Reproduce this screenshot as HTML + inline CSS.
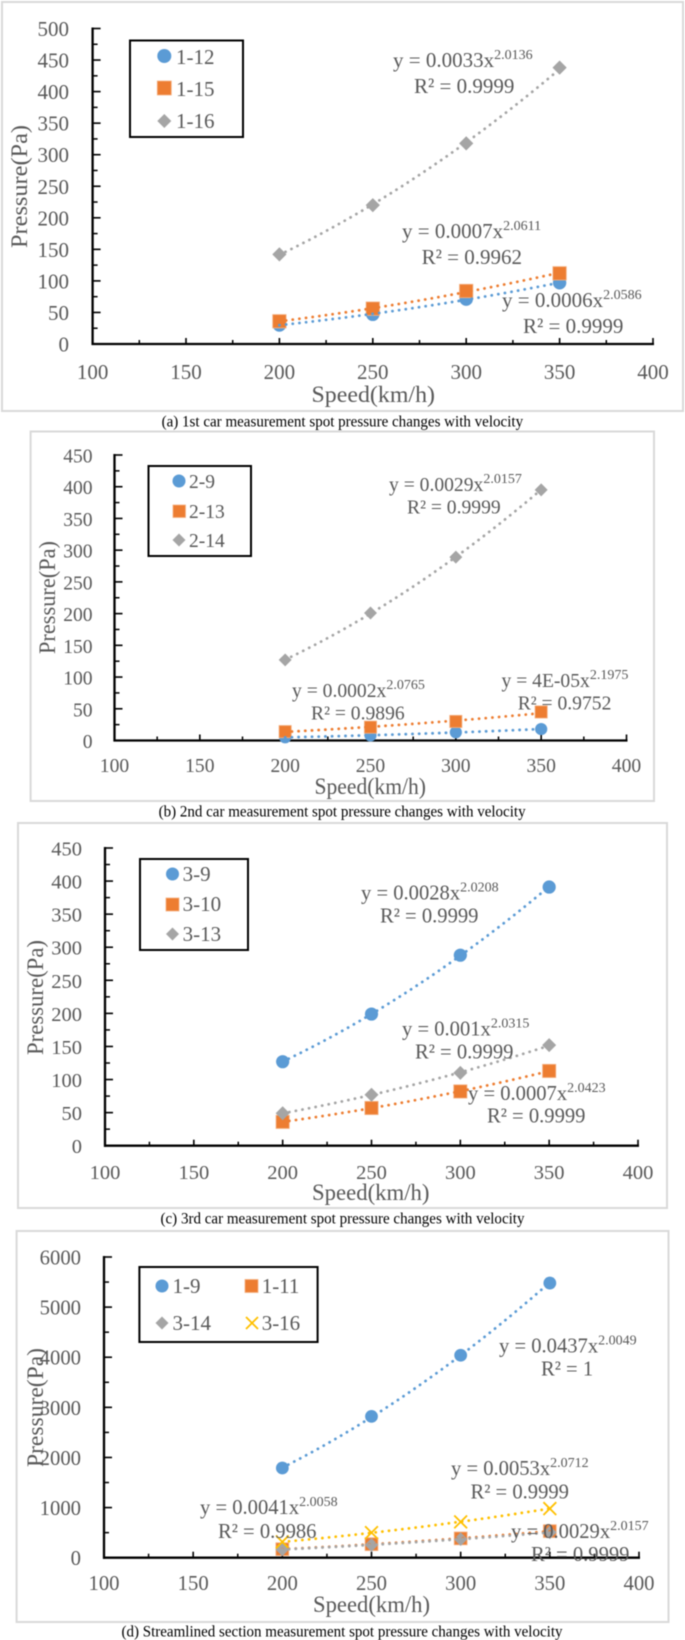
<!DOCTYPE html>
<html lang="en">
<head>
<meta charset="utf-8">
<title>Measurement spot pressure changes with velocity</title>
<style>
html,body{margin:0;padding:0;background:#fff;width:685px;height:1640px;overflow:hidden}
svg{display:block;filter:blur(0.45px)}
text{font-family:"Liberation Serif",serif;fill:#595959}
.cap{fill:#000;font-size:15.5px}
.eq{font-size:21px}
.eqb{font-size:19.6px}
.eqc{font-size:20.6px}
.sup{font-size:14px}
.leg{font-size:21px}
.title{font-size:23px}
</style>
</head>
<body>
<svg id="figure" xmlns="http://www.w3.org/2000/svg" width="685" height="1640" viewBox="0 0 685 1640">
  <rect x="0" y="0" width="685" height="1640" fill="#fff"/>

  <!-- panel frames -->
  <rect x="2" y="2" width="681" height="409" fill="#fff" stroke="#d9d9d9" stroke-width="2"/>
  <rect x="30.6" y="431.5" width="623.4" height="369.5" fill="#fff" stroke="#d9d9d9" stroke-width="2"/>
  <rect x="18" y="823" width="649" height="385" fill="#fff" stroke="#d9d9d9" stroke-width="2"/>
  <rect x="16.6" y="1231" width="651.9" height="391" fill="#fff" stroke="#d9d9d9" stroke-width="2"/>

  <!-- captions -->
  <text class="cap" x="161.6" y="426.5" textLength="361.5" lengthAdjust="spacingAndGlyphs">(a) 1st car measurement spot pressure changes with velocity</text>
  <text class="cap" x="158.6" y="816.5" textLength="367" lengthAdjust="spacingAndGlyphs">(b) 2nd car measurement spot pressure changes with velocity</text>
  <text class="cap" x="160.5" y="1223.5" textLength="364" lengthAdjust="spacingAndGlyphs">(c) 3rd car measurement spot pressure changes with velocity</text>
  <text class="cap" x="121.5" y="1636.5" textLength="441" lengthAdjust="spacingAndGlyphs">(d) Streamlined section measurement spot pressure changes with velocity</text>

  <!-- axis titles -->
  <text class="title" transform="translate(27,248) rotate(-90)" textLength="123" lengthAdjust="spacingAndGlyphs">Pressure(Pa)</text>
  <text class="title" x="311.5" y="402" textLength="123.5" lengthAdjust="spacingAndGlyphs">Speed(km/h)</text>
  <text class="title" transform="translate(55,654) rotate(-90)" textLength="113" lengthAdjust="spacingAndGlyphs">Pressure(Pa)</text>
  <text class="title" x="314.5" y="794" textLength="111.5" lengthAdjust="spacingAndGlyphs">Speed(km/h)</text>
  <text class="title" transform="translate(43,1055) rotate(-90)" textLength="115" lengthAdjust="spacingAndGlyphs">Pressure(Pa)</text>
  <text class="title" x="312" y="1200" textLength="117.5" lengthAdjust="spacingAndGlyphs">Speed(km/h)</text>

  <!-- legends -->
  <rect x="130" y="40.5" width="113" height="96.5" fill="#fff" stroke="#000" stroke-width="2"/>
  <circle cx="164.3" cy="56" r="7" fill="#5b9bd5"/>
  <text class="leg" x="176" y="64">1-12</text>
  <rect x="157.3" y="81" width="14" height="14" fill="#ed7d31" stroke="#f4b183" stroke-width="0.8"/>
  <text class="leg" x="176" y="96">1-15</text>
  <polygon points="164.3,114 171.3,121 164.3,128 157.3,121" fill="#a5a5a5"/>
  <text class="leg" x="176" y="128">1-16</text>

  <rect x="148.5" y="466" width="102.5" height="90" fill="#fff" stroke="#000" stroke-width="2"/>
  <circle cx="179" cy="481" r="6.5" fill="#5b9bd5"/>
  <text class="leg" style="font-size:19.5px" x="189" y="488">2-9</text>
  <rect x="173" y="505" width="12.5" height="12.5" fill="#ed7d31" stroke="#f4b183" stroke-width="0.8"/>
  <text class="leg" style="font-size:19.5px" x="189" y="518">2-13</text>
  <polygon points="179,533.5 185.5,540 179,546.5 172.5,540" fill="#a5a5a5"/>
  <text class="leg" style="font-size:19.5px" x="189" y="547">2-14</text>

  <rect x="140" y="859" width="108" height="91" fill="#fff" stroke="#000" stroke-width="2"/>
  <circle cx="172.5" cy="874" r="6.5" fill="#5b9bd5"/>
  <text class="leg" x="182.6" y="881">3-9</text>
  <rect x="166" y="898" width="13" height="13" fill="#ed7d31" stroke="#f4b183" stroke-width="0.8"/>
  <text class="leg" x="182.6" y="911">3-10</text>
  <polygon points="172.5,927.5 179,934 172.5,940.5 166,934" fill="#a5a5a5"/>
  <text class="leg" x="182.6" y="941">3-13</text>

  <rect x="139.4" y="1267" width="178.2" height="75" fill="#fff" stroke="#000" stroke-width="2"/>
  <circle cx="162" cy="1286" r="6.5" fill="#5b9bd5"/>
  <text class="leg" x="172.5" y="1293">1-9</text>
  <rect x="245" y="1279.5" width="13" height="13" fill="#ed7d31" stroke="#f4b183" stroke-width="0.8"/>
  <text class="leg" x="261.7" y="1293">1-11</text>
  <polygon points="162,1316.5 168.5,1323 162,1329.5 155.5,1323" fill="#a5a5a5"/>
  <text class="leg" x="172.5" y="1330">3-14</text>
  <path d="M246,1317L258,1329M258,1317L246,1329" stroke="#ffc000" stroke-width="1.8" fill="none"/>
  <text class="leg" x="261.7" y="1330">3-16</text>

  <g id="marks"></g>

  <!-- trendline equations: drawn above the marks -->
  <g id="equations">
    <text class="eq" x="393" y="67">y = 0.0033x<tspan class="sup" dy="-8">2.0136</tspan></text>
    <text class="eq" x="414" y="93">R² = 0.9999</text>
    <text class="eq" x="402" y="238">y = 0.0007x<tspan class="sup" dy="-8">2.0611</tspan></text>
    <text class="eq" x="421.6" y="264">R² = 0.9962</text>
    <text class="eq" x="502" y="307">y = 0.0006x<tspan class="sup" dy="-8">2.0586</tspan></text>
    <text class="eq" x="523" y="333">R² = 0.9999</text>

    <text class="eqb" x="389" y="491">y = 0.0029x<tspan class="sup" dy="-8">2.0157</tspan></text>
    <text class="eqb" x="407" y="513.5">R² = 0.9999</text>
    <text class="eqb" x="292" y="697">y = 0.0002x<tspan class="sup" dy="-8">2.0765</tspan></text>
    <text class="eqb" x="311" y="719.5">R² = 0.9896</text>
    <text class="eqb" x="501.5" y="687">y = 4E-05x<tspan class="sup" dy="-8">2.1975</tspan></text>
    <text class="eqb" x="517.7" y="709.5">R² = 0.9752</text>

    <text class="eqc" x="361" y="899.5">y = 0.0028x<tspan class="sup" dy="-8">2.0208</tspan></text>
    <text class="eqc" x="380" y="922.5">R² = 0.9999</text>
    <text class="eqc" x="402" y="1035.5">y = 0.001x<tspan class="sup" dy="-8">2.0315</tspan></text>
    <text class="eqc" x="415" y="1058.5">R² = 0.9999</text>
    <text class="eqc" x="468" y="1100">y = 0.0007x<tspan class="sup" dy="-8">2.0423</tspan></text>
    <text class="eqc" x="487" y="1122.5">R² = 0.9999</text>

    <text class="eqc" x="499" y="1352.5">y = 0.0437x<tspan class="sup" dy="-8">2.0049</tspan></text>
    <text class="eqc" x="541" y="1375.5">R² = 1</text>
    <text class="eqc" x="451" y="1475">y = 0.0053x<tspan class="sup" dy="-8">2.0712</tspan></text>
    <text class="eqc" x="470.5" y="1498.5">R² = 0.9999</text>
    <text class="eqc" x="200" y="1514">y = 0.0041x<tspan class="sup" dy="-8">2.0058</tspan></text>
    <text class="eqc" x="218" y="1538">R² = 0.9986</text>
    <text class="eqc" x="511" y="1538">y = 0.0029x<tspan class="sup" dy="-8">2.0157</tspan></text>
    <text class="eqc" x="531" y="1561">R² = 0.9999</text>

    <text class="title" transform="translate(43,1467) rotate(-90)" textLength="119" lengthAdjust="spacingAndGlyphs">Pressure(Pa)</text>
    <text class="title" x="313" y="1612" textLength="117" lengthAdjust="spacingAndGlyphs">Speed(km/h)</text>
  </g>
</svg>
<script>
// ---- data ----
const speeds = [200, 250, 300, 350];
const xTickLabels = [100, 150, 200, 250, 300, 350, 400];
const xMinorTicks = [125, 175, 225, 275, 325, 375];

const yTicksA = [0, 50, 100, 150, 200, 250, 300, 350, 400, 450, 500];
const yMinorA = [25, 75, 125, 175, 225, 275, 325, 375, 425, 475];
const yTicksB = [0, 50, 100, 150, 200, 250, 300, 350, 400, 450];
const yMinorB = [25, 75, 125, 175, 225, 275, 325, 375, 425];
const yTicksC = [0, 50, 100, 150, 200, 250, 300, 350, 400, 450];
const yMinorC = [25, 75, 125, 175, 225, 275, 325, 375, 425];
const yTicksD = [0, 1000, 2000, 3000, 4000, 5000, 6000];
const yMinorD = [500, 1500, 2500, 3500, 4500, 5500];

const spot1_12 = [30, 47, 71, 97];
const spot1_15 = [36, 56, 84, 112];
const spot1_16 = [142, 220, 318, 438];

const spot2_9 = [5, 8, 13, 18];
const spot2_13 = [14, 21, 30, 45];
const spot2_14 = [127, 201, 289, 395];

const spot3_9 = [127, 199, 288, 391];
const spot3_10 = [36, 57, 82, 113];
const spot3_13 = [49, 77, 110, 152];

const spot1_9 = [1790, 2820, 4040, 5480];
const spot1_11 = [170, 270, 385, 530];
const spot3_14 = [165, 255, 370, 505];
const spot3_16 = [315, 500, 715, 980];

// ---- layout ----
const BLUE = '#5b9bd5', ORANGE = '#ed7d31', GRAY = '#a5a5a5', GOLD = '#ffc000';
const SVGNS = 'http://www.w3.org/2000/svg';
const marksRoot = document.getElementById('marks');

const panels = [
  { id: 'a', left: 92.6, right: 653, zero: 344, top: 28.5, yMax: 500, yTicks: yTicksA, yMinor: yMinorA,
    labelRight: 69, font: 21, xLabelBase: 379, size: 6.7,
    series: [
      { name: '1-12', values: spot1_12, color: BLUE, shape: 'circle' },
      { name: '1-15', values: spot1_15, color: ORANGE, shape: 'square' },
      { name: '1-16', values: spot1_16, color: GRAY, shape: 'diamond' }
    ] },
  { id: 'b', left: 114.5, right: 626.5, zero: 740.5, top: 455, yMax: 450, yTicks: yTicksB, yMinor: yMinorB,
    labelRight: 92.6, font: 19.6, xLabelBase: 772, size: 6.1,
    series: [
      { name: '2-9', values: spot2_9, color: BLUE, shape: 'circle' },
      { name: '2-13', values: spot2_13, color: ORANGE, shape: 'square' },
      { name: '2-14', values: spot2_14, color: GRAY, shape: 'diamond' }
    ] },
  { id: 'c', left: 105, right: 638, zero: 1145.7, top: 848, yMax: 450, yTicks: yTicksC, yMinor: yMinorC,
    labelRight: 82, font: 20.5, xLabelBase: 1179, size: 6.6,
    series: [
      { name: '3-9', values: spot3_9, color: BLUE, shape: 'circle' },
      { name: '3-10', values: spot3_10, color: ORANGE, shape: 'square' },
      { name: '3-13', values: spot3_13, color: GRAY, shape: 'diamond' }
    ] },
  { id: 'd', left: 104, right: 639, zero: 1557.7, top: 1257, yMax: 6000, yTicks: yTicksD, yMinor: yMinorD,
    labelRight: 81, font: 20.7, xLabelBase: 1590, size: 6.4,
    series: [
      { name: '1-9', values: spot1_9, color: BLUE, shape: 'circle' },
      { name: '1-11', values: spot1_11, color: ORANGE, shape: 'square' },
      { name: '3-14', values: spot3_14, color: GRAY, shape: 'diamond' },
      { name: '3-16', values: spot3_16, color: GOLD, shape: 'cross' }
    ] }
];

function make(tag, attrs, parent) {
  const node = document.createElementNS(SVGNS, tag);
  Object.keys(attrs).forEach(function (k) { node.setAttribute(k, attrs[k]); });
  parent.appendChild(node);
  return node;
}

// Power-law trendline fitted (log-log least squares) to a series' values
function powerFit(xs, ys) {
  const lx = xs.map(Math.log);
  const ly = ys.map(function (v) { return Math.log(Math.max(v, 1e-6)); });
  const n = xs.length;
  const mx = lx.reduce(function (s, v) { return s + v; }, 0) / n;
  const my = ly.reduce(function (s, v) { return s + v; }, 0) / n;
  let num = 0, den = 0;
  for (let i = 0; i < n; i++) {
    num += (lx[i] - mx) * (ly[i] - my);
    den += (lx[i] - mx) * (lx[i] - mx);
  }
  const b = num / den;
  const a = Math.exp(my - b * mx);
  return function (x) { return a * Math.pow(x, b); };
}

panels.forEach(function (p) {
  const xScale = function (v) { return p.left + (v - 100) / 300 * (p.right - p.left); };
  const yScale = function (v) { return p.zero - v / p.yMax * (p.zero - p.top); };
  const group = make('g', {}, marksRoot);
  
  

  // axes
  const yAxis = make('line', { x1: p.left, x2: p.left, y1: p.top - 1, y2: p.zero + 1, stroke: '#000', 'stroke-width': 2.3 }, group);
  
  
  const xAxis = make('line', { x1: p.left - 1, x2: p.right + 1, y1: p.zero, y2: p.zero, stroke: '#000', 'stroke-width': 2.3 }, group);
  
  

  // y ticks
  p.yTicks.forEach(function (v) {
    const y = yScale(v);
    if (v !== 0) {
      const t = make('line', { x1: p.left, x2: p.left + 8, y1: y, y2: y, stroke: '#000', 'stroke-width': 1.6 }, group);
      
      
    }
    const lab = make('text', { x: p.labelRight, y: y + 7.5, 'text-anchor': 'end', style: 'font-size:' + p.font + 'px' }, group);
    lab.textContent = String(v);
    
    
  });
  p.yMinor.forEach(function (v) {
    const y = yScale(v);
    const t = make('line', { x1: p.left, x2: p.left + 5, y1: y, y2: y, stroke: '#000', 'stroke-width': 1.5 }, group);
    
    
  });

  // x ticks
  xTickLabels.forEach(function (v) {
    const x = xScale(v);
    if (v !== 100) {
      const t = make('line', { x1: x, x2: x, y1: p.zero - 6, y2: p.zero, stroke: '#000', 'stroke-width': 1.6 }, group);
      
      
    }
    const lab = make('text', { x: x, y: p.xLabelBase, 'text-anchor': 'middle', style: 'font-size:' + p.font + 'px' }, group);
    lab.textContent = String(v);
    
    
  });
  xMinorTicks.forEach(function (v) {
    const x = xScale(v);
    const t = make('line', { x1: x, x2: x, y1: p.zero - 4, y2: p.zero, stroke: '#000', 'stroke-width': 1.5 }, group);
    
    
  });

  // markers first, trendlines above them
  p.series.forEach(function (s) {
    speeds.forEach(function (sp, i) {
      const cx = xScale(sp), cy = yScale(s.values[i]), r = p.size;
      let mark;
      if (s.shape === 'circle') {
        mark = make('circle', { cx: cx, cy: cy, r: r, fill: s.color }, group);
      } else if (s.shape === 'square') {
        mark = make('rect', { x: cx - r, y: cy - r, width: 2 * r, height: 2 * r, fill: s.color, stroke: '#f4b183', 'stroke-width': 0.8 }, group);
      } else if (s.shape === 'diamond') {
        const h = r * 1.06;
        mark = make('polygon', { points: cx + ',' + (cy - h) + ' ' + (cx + h) + ',' + cy + ' ' + cx + ',' + (cy + h) + ' ' + (cx - h) + ',' + cy, fill: s.color }, group);
      } else {
        mark = make('path', { d: 'M' + (cx - r) + ',' + (cy - r) + 'L' + (cx + r) + ',' + (cy + r) + 'M' + (cx + r) + ',' + (cy - r) + 'L' + (cx - r) + ',' + (cy + r), fill: 'none', stroke: s.color, 'stroke-width': 1.8 }, group);
      }
      
      
    });
  });
  p.series.forEach(function (s) {
    const fit = powerFit(speeds, s.values);
    let d = '';
    const first = speeds[0], last = speeds[speeds.length - 1];
    for (let k = 0; k <= 30; k++) {
      const vx = first + (last - first) * k / 30;
      d += (k ? 'L' : 'M') + xScale(vx).toFixed(2) + ',' + yScale(fit(vx)).toFixed(2);
    }
    const trend = make('path', { d: d, fill: 'none', stroke: s.color, 'stroke-width': 2.8, 'stroke-linecap': 'round', 'stroke-dasharray': '0.1 6.6' }, group);
    
    
  });
});
</script>
</body>
</html>
